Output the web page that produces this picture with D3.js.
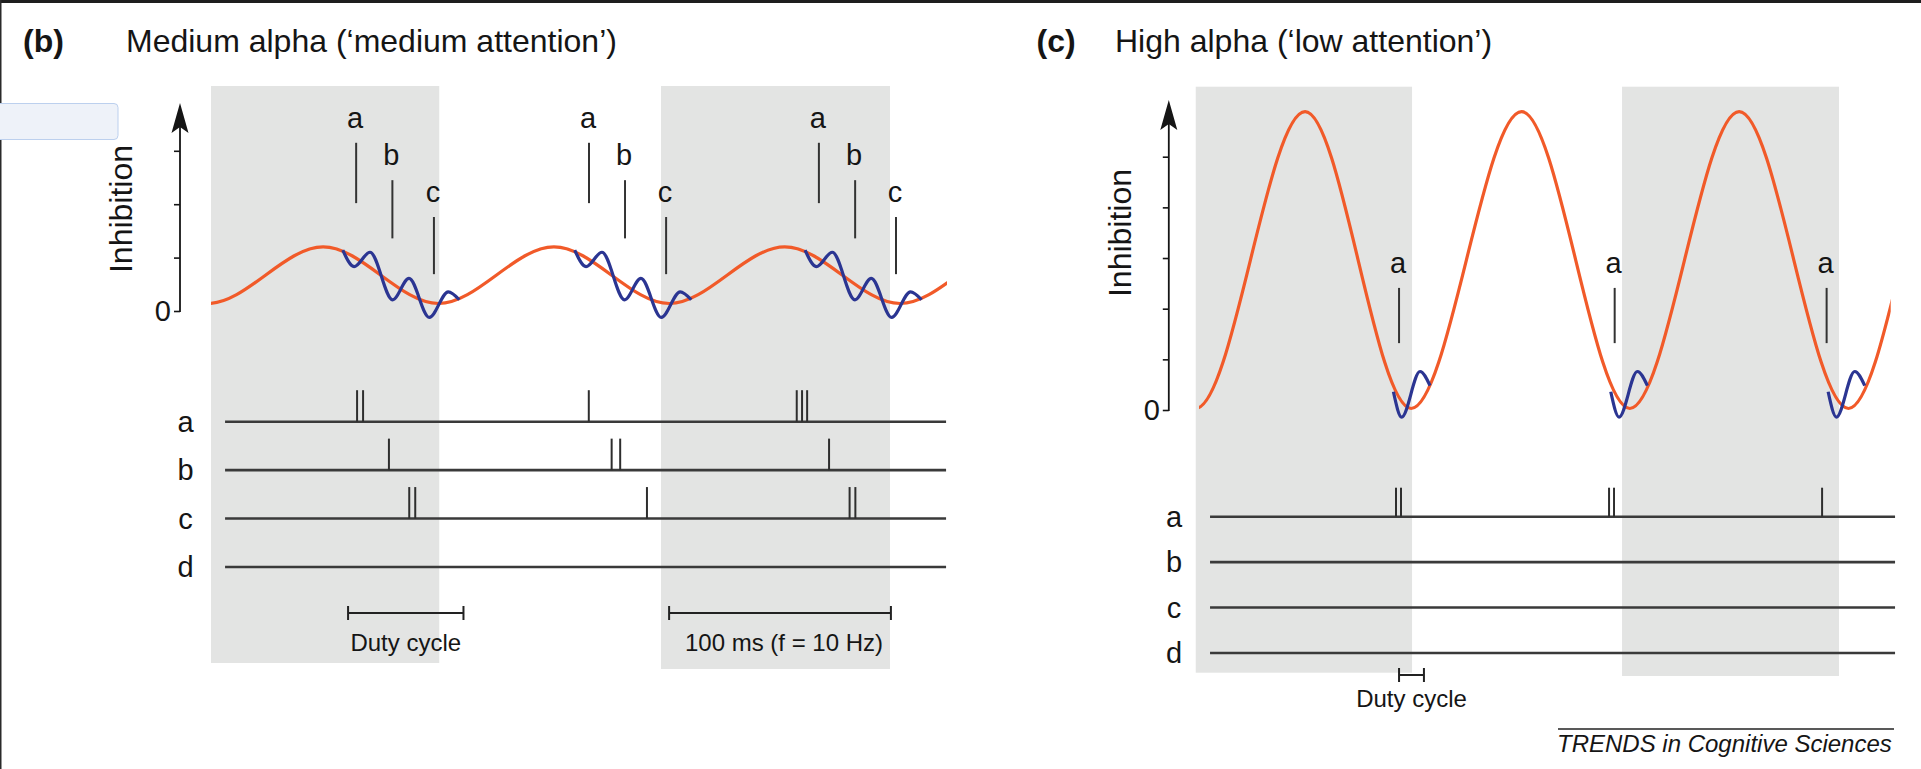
<!DOCTYPE html>
<html>
<head>
<meta charset="utf-8">
<title>Alpha gating by inhibition</title>
<script src="https://d3js.org/d3.v7.min.js"></script>
<style>
  html, body { margin: 0; padding: 0; background: #fff; }
  svg { display: block; font-family: "Liberation Sans", Arial, Helvetica, sans-serif; }
</style>
</head>
<body>
<div id="chart"></div>
<script>
/* global d3 */

// ---- data: time in ms, inhibition in axis units ----
var rowNames = ["a", "b", "c", "d"];

// (b) medium alpha, extrema of the alpha wave (ends run past the shown part)
var bAlpha = [[-100, 0.14], [-50, 1.2], [0, 0.14], [50, 1.2], [100, 0.14], [150, 1.2], [200, 0.14], [250, 1.2], [300, 0.14], [350, 1.2], [400, 0.14]];
var bAlphaSpan = [1.4, 320.3];
var bGamma = [[58.5, 1.14], [63.4, 0.83], [70.3, 1.10], [80.1, 0.21], [87.2, 0.61], [96.0, -0.12], [104.2, 0.36], [109.0, 0.21]];
var bGammaOnsets = [0, 100.5, 200.3];
var bMarkNames = ["a", "b", "c"];
var bMarkTimes = [[64.3, 165.2, 264.8], [80.0, 180.8, 280.5], [98.0, 198.6, 298.2]];
var bMarkSpan = [[2.02, 3.15], [1.36, 2.45], [0.69, 1.76]];
var bSpikes = [[64.7, 67.3, 165.1, 255.2, 257.5, 259.7], [78.5, 175.0, 178.7, 269.2], [87.3, 89.9, 190.3, 278.1, 280.6], []];
var bTrainSpan = [7.5, 319.9];
var bShade = [[1.4, 100.3], [196.4, 295.6]];
var bBars = [[60.8, 110.8], [199.9, 296.0]];
var bBarText = ["Duty cycle", "100 ms (f = 10 Hz)"];
var bTicks = [0, 1, 2, 3];

// (c) high alpha
var cAlpha = [[-100, 0.03], [-50, 5.89], [0, 0.03], [50.5, 5.89], [99.5, 0.03], [150.5, 5.89], [200.5, 0.03], [251, 5.89], [301.5, 0.03], [351, 5.89], [401, 0.03]];
var cAlphaSpan = [1.5, 321];
var cGamma = [[91.3, 0.36], [95.1, -0.14], [103.6, 0.76], [108.2, 0.48]];
var cGammaOnsets = [0, 100.4, 200.8];
var cMarkNames = ["a"];
var cMarkTimes = [[93.9, 193.5, 291.4]];
var cMarkSpan = [[1.32, 2.41]];
var cSpikes = [[92.5, 94.8, 190.9, 193.2, 289.3], [], [], []];
var cTrainSpan = [6.6, 323.0];
var cShade = [[0, 99.9], [196.9, 297.1]];
var cBars = [[93.9, 105.4]];
var cBarText = ["Duty cycle"];
var cTicks = [0, 1, 2, 3, 4, 5];

// ---- layout ----
var W = 1921, H = 769;
var ink = "#151515";

var bLayout = {tag: "(b)", title: "Medium alpha (\u2018medium attention\u2019)", tagX: 23, titleX: 126,
  xRange: [207.75, 946.3], yRange: [311, 150.8], axisX: 180, arrowTip: 103,
  inhibX: 132, inhibY: 209, rowRange: [421.7, 567], rowLabelX: 185.5, spikeH: 31.5,
  shadeTop: 86, shadeBottom: [663, 669], barY: 613, barTextY: 650.5};

var cLayout = {tag: "(c)", title: "High alpha (\u2018low attention\u2019)", tagX: 1036.5, titleX: 1115,
  xRange: [1195.75, 1888.55], yRange: [410, 156.7], axisX: 1168.8, arrowTip: 100,
  inhibX: 1131, inhibY: 233, rowRange: [516.7, 653], rowLabelX: 1174, spikeH: 29,
  shadeTop: 86.7, shadeBottom: [672.7, 676], barY: 675, barTextY: 707};

var svg = d3.select("#chart").append("svg")
    .attr("width", W)
    .attr("height", H);
var defs = svg.append("defs");

// bits of the page frame seen in the screenshot
svg.append("rect").attr("x", 0).attr("y", 0).attr("width", W).attr("height", 3).attr("fill", "#1e1e1e");
svg.append("rect").attr("x", 0).attr("y", 0).attr("width", 1.5).attr("height", H).attr("fill", "#2a2a2a");
svg.append("rect").attr("x", -5).attr("y", 103.5).attr("width", 123).attr("height", 36).attr("rx", 4)
    .attr("fill", "#eef2f9").attr("stroke", "#bcd0ee");

function drawPanel(id, L, D) {
  var g = svg.append("g").attr("class", "panel-" + id);

  var x = d3.scaleLinear().domain([0, 320]).range(L.xRange),
      y = d3.scaleLinear().domain([0, D.ticks[D.ticks.length - 1]]).range(L.yRange),
      row = d3.scalePoint().domain(rowNames).range(L.rowRange);

  //grey bands, one alpha cycle each
  g.selectAll(".shade").data(D.shade).enter().append("rect")
      .attr("class", "shade")
      .attr("x", function(d){ return x(d[0]); })
      .attr("width", function(d){ return x(d[1]) - x(d[0]); })
      .attr("y", L.shadeTop)
      .attr("height", function(d, i){ return L.shadeBottom[i] - L.shadeTop; })
      .attr("fill", "#e3e4e3");

  //headings
  g.append("text").attr("x", L.tagX).attr("y", 52)
      .attr("font-size", 32).attr("font-weight", "bold").attr("fill", ink).text(L.tag);
  g.append("text").attr("x", L.titleX).attr("y", 52)
      .attr("font-size", 32).attr("fill", ink).text(L.title);

  //y axis, only 0 is labelled
  var yAxis = d3.axisLeft(y).tickValues(D.ticks).tickSize(6).tickPadding(3)
      .tickFormat(function(d){ return d === 0 ? "0" : ""; });
  var ax = g.append("g")
      .attr("transform", "translate(" + L.axisX + ",0)")
      .call(yAxis);
  ax.attr("font-family", null).attr("font-size", 29).attr("color", ink);
  ax.select(".domain").remove();
  ax.selectAll(".tick line").attr("stroke-width", 1.6);

  g.append("line")
      .attr("x1", L.axisX).attr("x2", L.axisX)
      .attr("y1", y(0) + 1).attr("y2", L.arrowTip + 14)
      .attr("stroke", ink).attr("stroke-width", 1.8);
  g.append("path")
      .attr("d", "M" + L.axisX + "," + L.arrowTip + "l-8.5,30l8.5,-6l8.5,6z")
      .attr("fill", ink);

  g.append("text")
      .attr("transform", "translate(" + L.inhibX + "," + L.inhibY + ") rotate(-90)")
      .attr("text-anchor", "middle")
      .attr("font-size", 32).attr("fill", ink)
      .text("Inhibition");

  var line = d3.line()
      .x(function(d){ return x(d[0]); })
      .y(function(d){ return y(d[1]); })
      .curve(d3.curveMonotoneX);

  //alpha wave, clipped to the part shown
  defs.append("clipPath").attr("id", "clip-" + id)
    .append("rect")
      .attr("x", x(D.alphaSpan[0]))
      .attr("width", x(D.alphaSpan[1]) - x(D.alphaSpan[0]))
      .attr("y", 0).attr("height", H);

  g.append("path").datum(D.alpha)
      .attr("clip-path", "url(#clip-" + id + ")")
      .attr("d", line)
      .attr("fill", "none")
      .attr("stroke", "#f15a29")
      .attr("stroke-width", 3.2);

  //gamma bursts riding on each cycle
  g.selectAll(".gamma").data(D.onsets).enter().append("path")
      .attr("class", "gamma")
      .attr("d", function(o){ return line(D.gamma.map(function(p){ return [p[0] + o, p[1]]; })); })
      .attr("fill", "none")
      .attr("stroke", "#2b3592")
      .attr("stroke-width", 3.2);

  //firing windows a, b, c
  D.markNames.forEach(function(name, i){
    var span = D.markSpan[i];
    var mk = g.selectAll(".mk-" + name).data(D.markTimes[i]).enter();
    mk.append("line")
        .attr("x1", function(d){ return x(d); })
        .attr("x2", function(d){ return x(d); })
        .attr("y1", y(span[1]))
        .attr("y2", y(span[0]))
        .attr("stroke", "#333").attr("stroke-width", 2);
    mk.append("text")
        .attr("x", function(d){ return x(d) - 1; })
        .attr("y", y(span[1]) - 15)
        .attr("text-anchor", "middle")
        .attr("font-size", 29).attr("fill", ink)
        .text(name);
  });

  //spike trains
  rowNames.forEach(function(name, i){
    var yy = row(name);
    g.append("line")
        .attr("x1", x(D.trainSpan[0])).attr("x2", x(D.trainSpan[1]))
        .attr("y1", yy).attr("y2", yy)
        .attr("stroke", "#3a3a3a").attr("stroke-width", 2.6);
    g.append("text")
        .attr("x", L.rowLabelX).attr("y", yy + 10)
        .attr("text-anchor", "middle")
        .attr("font-size", 29).attr("fill", ink)
        .text(name);
    g.selectAll(".sp-" + name).data(D.spikes[i]).enter().append("line")
        .attr("x1", function(d){ return x(d); })
        .attr("x2", function(d){ return x(d); })
        .attr("y1", yy)
        .attr("y2", yy - L.spikeH)
        .attr("stroke", "#2e2e2e").attr("stroke-width", 2);
  });

  //scale bars
  D.bars.forEach(function(b, i){
    var x0 = x(b[0]), x1 = x(b[1]);
    g.append("path")
        .attr("d", "M" + x0 + "," + (L.barY - 7) + "V" + (L.barY + 7)
          + "M" + x0 + "," + L.barY + "H" + x1
          + "M" + x1 + "," + (L.barY - 7) + "V" + (L.barY + 7))
        .attr("fill", "none").attr("stroke", "#222").attr("stroke-width", 2);
    g.append("text")
        .attr("x", (x0 + x1) / 2 + (i === 1 ? 4 : 0))
        .attr("y", L.barTextY)
        .attr("text-anchor", "middle")
        .attr("font-size", 24).attr("fill", ink)
        .text(D.barText[i]);
  });
}

drawPanel("b", bLayout, {alpha: bAlpha, alphaSpan: bAlphaSpan, gamma: bGamma, onsets: bGammaOnsets,
  markNames: bMarkNames, markTimes: bMarkTimes, markSpan: bMarkSpan, spikes: bSpikes, trainSpan: bTrainSpan,
  shade: bShade, bars: bBars, barText: bBarText, ticks: bTicks});

drawPanel("c", cLayout, {alpha: cAlpha, alphaSpan: cAlphaSpan, gamma: cGamma, onsets: cGammaOnsets,
  markNames: cMarkNames, markTimes: cMarkTimes, markSpan: cMarkSpan, spikes: cSpikes, trainSpan: cTrainSpan,
  shade: cShade, bars: cBars, barText: cBarText, ticks: cTicks});

// journal footer
svg.append("line")
    .attr("x1", 1558).attr("x2", 1894).attr("y1", 729).attr("y2", 729)
    .attr("stroke", "#222").attr("stroke-width", 1.6);
svg.append("text")
    .attr("x", 1557).attr("y", 752)
    .attr("font-size", 24).attr("font-style", "italic").attr("fill", ink)
    .text("TRENDS in Cognitive Sciences");
</script>
</body>
</html>
